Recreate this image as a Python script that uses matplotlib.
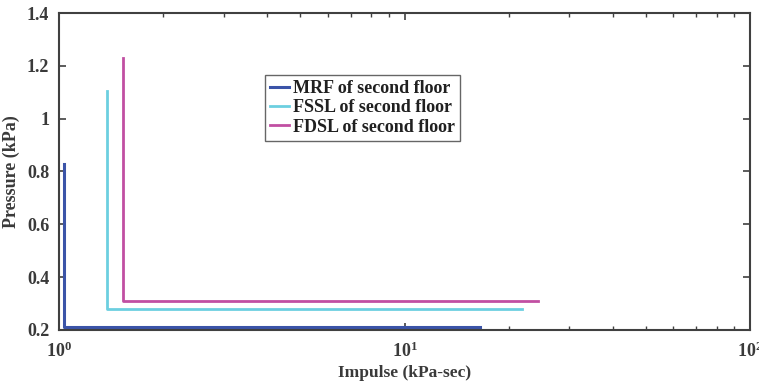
import matplotlib
matplotlib.use("Agg")
import matplotlib.pyplot as plt
from matplotlib.ticker import LogLocator, NullFormatter, FixedLocator

plt.rcParams['font.family'] = ['Liberation Serif', 'DejaVu Serif']
plt.rcParams['font.weight'] = 'bold'
plt.rcParams['mathtext.fontset'] = 'custom'
plt.rcParams['mathtext.rm'] = 'Liberation Serif:bold'
plt.rcParams['mathtext.default'] = 'rm'

# Pressure-impulse curves (impulse in kPa-sec, pressure in kPa)
mrf_impulse = [1.034, 1.034, 16.5]
mrf_pressure = [0.83, 0.211, 0.211]
fssl_impulse = [1.38, 1.38, 21.9]
fssl_pressure = [1.105, 0.28, 0.28]
fdsl_impulse = [1.53, 1.53, 24.3]
fdsl_pressure = [1.23, 0.31, 0.31]
labels = ["MRF of second floor", "FSSL of second floor", "FDSL of second floor"]
colors = ["#3b54a8", "#6ccfe0", "#c14fa2"]

y_ticks = [0.2, 0.4, 0.6, 0.8, 1.0, 1.2, 1.4]
y_tick_labels = ["0.2", "0.4", "0.6", "0.8", "1", "1.2", "1.4"]

fig = plt.figure(figsize=(7.59, 3.90), dpi=100)
ax = fig.add_axes([59/759, 60/390, 691/759, 317/390])

ax.plot(mrf_impulse, mrf_pressure, color=colors[0], lw=2.2, label=labels[0])
ax.plot(fssl_impulse, fssl_pressure, color=colors[1], lw=2.0, label=labels[1])
ax.plot(fdsl_impulse, fdsl_pressure, color=colors[2], lw=2.0, label=labels[2])

ax.set_xscale('log')
ax.set_xlim(1, 100)
ax.set_ylim(0.2, 1.4)
ax.yaxis.set_major_locator(FixedLocator(y_ticks))
ax.set_yticklabels(y_tick_labels)
ax.xaxis.set_major_locator(LogLocator(base=10, numticks=5))
ax.xaxis.set_minor_locator(LogLocator(base=10, subs=range(2, 10), numticks=20))
ax.xaxis.set_minor_formatter(NullFormatter())

text_color = "#3a3a3a"
for s in ax.spines.values():
    s.set_color("#404040")
    s.set_linewidth(1.5)
ax.tick_params(which='both', direction='in', top=True, right=True,
               colors="#404040", labelcolor=text_color, labelsize=13)
ax.tick_params(which='major', length=5, width=1.2)
ax.tick_params(which='minor', length=3, width=1.0)
ax.tick_params(axis='x', which='major', pad=8)
ax.tick_params(axis='y', which='major', pad=7)

ax.set_xlabel("Impulse (kPa-sec)", fontsize=12.5, fontweight='bold', color=text_color, labelpad=3)
ax.set_ylabel("Pressure (kPa)", fontsize=13, fontweight='bold', color=text_color, labelpad=5)

leg = ax.legend(loc='upper left', bbox_to_anchor=(0.298, 0.805), fontsize=13,
                frameon=True, fancybox=False, handlelength=1.05, handletextpad=0.2,
                borderpad=0.3, labelspacing=0.12, borderaxespad=0)
leg.get_frame().set_edgecolor("#404040")
leg.get_frame().set_linewidth(1.0)
for t in leg.get_texts():
    t.set_color("#202020")
    t.set_fontweight('bold')

fig.savefig("out.png", dpi=100)
